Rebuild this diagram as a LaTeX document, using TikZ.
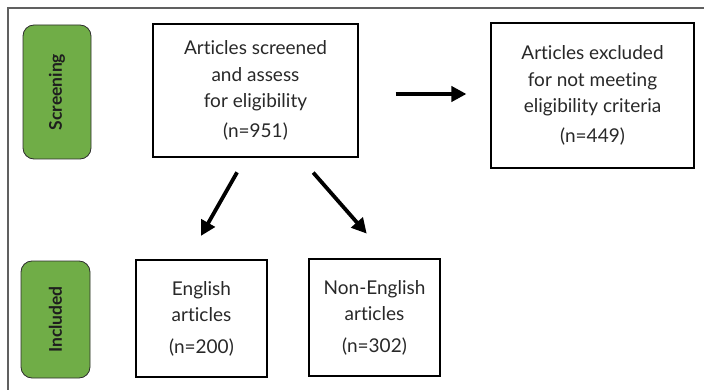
\documentclass[tikz,border=0pt]{standalone}
\usepackage{fontspec}
\setmainfont{Lato}[Ligatures=NoCommon]
\usetikzlibrary{arrows.meta}
\definecolor{stageGreen}{RGB}{112,173,71}
\definecolor{textGray}{RGB}{40,40,40}
\definecolor{frameGray}{RGB}{96,96,96}
\begin{document}
\begin{tikzpicture}[x=1pt,y=-1pt,
  stagebox/.style={draw={rgb,255:red,45;green,45;blue,45},fill=stageGreen,rounded corners=11pt,line width=0.8pt,rotate=90,inner sep=0pt,text={rgb,255:red,30;green,30;blue,30},font=\bfseries\fontsize{17.5}{20}\selectfont},
  countbox/.style={draw=black,line width=1.1pt,inner sep=0pt,align=center,text=textGray,font=\fontsize{19}{26.5}\selectfont},
  fatarrow/.style={-{Triangle[length=15pt,width=15pt]},line width=3.8pt}]
\path[use as bounding box] (0,0) rectangle (704,390);
\draw[draw=frameGray,line width=1.4pt] (8,390) -- (8,8) -- (704,8);
% stage labels
\node[stagebox,minimum width=134pt,minimum height=68pt] (screening) at (57,92) {Screening};
\node[stagebox,minimum width=117pt,minimum height=69pt] (included) at (55.5,319.5) {Included};
% boxes
\node[countbox,minimum width=205pt,minimum height=133pt] (screened) at (255.5,90.5) {Articles screened\\and assess\\for eligibility\\[3pt](n=951)};
\node[countbox,minimum width=203pt,minimum height=145pt] (excluded) at (592.5,95.5) {Articles excluded\\for not meeting\\eligibility criteria\\[3pt](n=449)};
\node[countbox,minimum width=131pt,minimum height=117pt] (english) at (201.5,318.5) {English\\articles\\[5pt](n=200)};
\node[countbox,minimum width=131pt,minimum height=117pt] (nonenglish) at (374.5,317.5) {Non-English\\articles\\[5pt](n=302)};
% arrows
\coordinate (hstart) at ([yshift=-3.5pt]screened.east);
\draw[fatarrow,shorten <=37pt,shorten >=24pt] (hstart) -- (hstart -| excluded.west);
\draw[fatarrow,shorten <=17pt,shorten >=27pt] ([xshift=-10pt]screened.south) -- ([xshift=-14pt]english.north);
\draw[fatarrow,shorten <=20pt,shorten >=33pt] ([xshift=44.5pt]screened.south) -- ([xshift=14pt]nonenglish.north);
\end{tikzpicture}
\end{document}
